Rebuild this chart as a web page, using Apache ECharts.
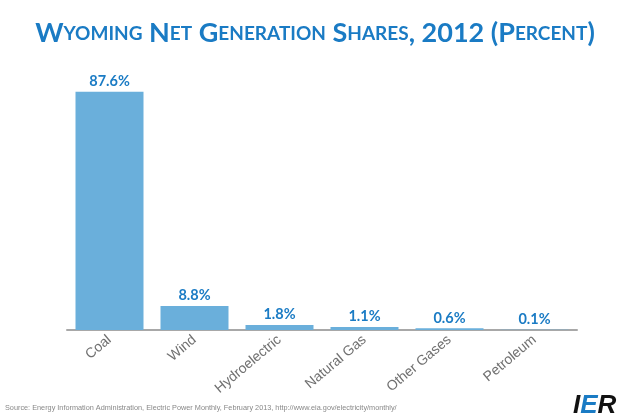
<!DOCTYPE html>
<html>
<head>
<meta charset="utf-8">
<script src="https://cdn.jsdelivr.net/npm/echarts@6/dist/echarts.min.js"></script>
<style>html,body{margin:0;padding:0;background:#fff;}#c{width:630px;height:420px;}</style>
</head>
<body>
<div id="c"></div>
<script>
const categories = ['Coal', 'Wind', 'Hydroelectric', 'Natural Gas', 'Other Gases', 'Petroleum'];
const shares = [87.6, 8.8, 1.8, 1.1, 0.6, 0.1];
const titleWords = ['Wyoming', 'Net', 'Generation', 'Shares,', '2012', '(Percent)'];

function smallCaps(words) {
  return words.map(w => {
    let out = '';
    let i = 0;
    while (i < w.length) {
      const ch = w[i];
      if (/[a-z]/.test(ch)) {
        let j = i;
        while (j < w.length && /[a-z]/.test(w[j])) j++;
        out += '{s|' + w.slice(i, j).toUpperCase() + '}';
        i = j;
      } else {
        let j = i;
        while (j < w.length && !/[a-z]/.test(w[j])) j++;
        out += '{b|' + w.slice(i, j) + '}';
        i = j;
      }
    }
    return out;
  }).join('{b| }');
}

const chart = echarts.init(document.getElementById('c'));
const blue = '#1a7bc4';
chart.setOption({
  animation: false,
  title: {
    text: smallCaps(titleWords),
    left: 'center',
    top: 15,
    textStyle: {
      rich: {
        b: { fontFamily: 'Lato', fontWeight: 'bold', fontSize: 27, color: blue },
        s: { fontFamily: 'Lato', fontWeight: 'bold', fontSize: 19, color: blue }
      }
    }
  },
  grid: { left: 67, right: 53, top: 58, bottom: 90 },
  xAxis: {
    type: 'category',
    data: categories,
    axisLine: { lineStyle: { color: '#a8a8a8', width: 2 } },
    axisTick: { show: false },
    axisLabel: { rotate: 40, color: '#707070', fontSize: 14, fontFamily: 'Liberation Sans', margin: 8 }
  },
  yAxis: { type: 'value', min: 0, max: 100, show: false },
  series: [{
    type: 'bar',
    data: shares,
    barWidth: '80%',
    itemStyle: { color: '#6aafdb' },
    label: {
      show: true,
      position: 'top',
      distance: 3,
      formatter: p => p.value.toFixed(1) + '%',
      color: blue,
      fontWeight: 'bold',
      fontSize: 14.5,
      fontFamily: 'Lato'
    }
  }],
  graphic: [
    { type: 'text', left: 5, top: 404, style: { text: 'Source: Energy Information Administration, Electric Power Monthly, February 2013, http://www.eia.gov/electricity/monthly/', fill: '#888', fontSize: 7.3, fontFamily: 'Liberation Sans' } },
    { type: 'text', left: 573, top: 393, style: { text: '{i|I}{e|E}{i|R}', rich: {
      i: { fill: '#111', fontSize: 26, fontWeight: 'bold', fontStyle: 'italic', fontFamily: 'Liberation Sans' },
      e: { fill: '#1a7bc4', fontSize: 26, fontWeight: 'bold', fontStyle: 'italic', fontFamily: 'Liberation Sans' }
    } } }
  ]
});
</script>
</body>
</html>
